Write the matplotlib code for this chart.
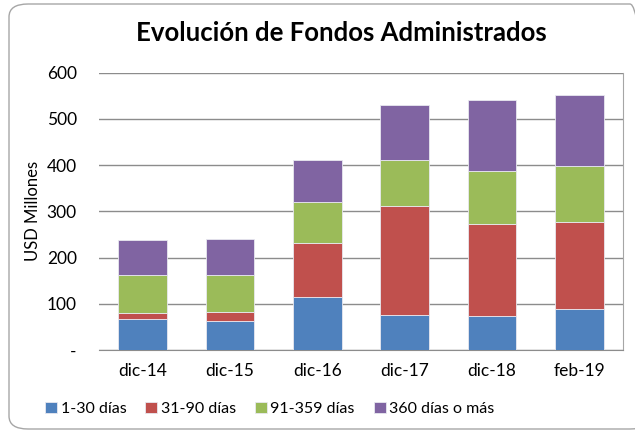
import matplotlib.pyplot as plt
from matplotlib.patches import FancyBboxPatch
import numpy as np

plt.rcParams['font.family'] = ['Lato', 'DejaVu Sans']

categories = ["dic-14", "dic-15", "dic-16", "dic-17", "dic-18", "feb-19"]
d1_30 = [66, 63, 115, 75, 73, 88]
d31_90 = [15, 20, 116, 237, 200, 190]
d91_359 = [81, 79, 90, 99, 114, 120]
d360 = [75, 79, 90, 120, 153, 153]

series = [
    ("1-30 días", d1_30, "#4F81BD"),
    ("31-90 días", d31_90, "#C0504D"),
    ("91-359 días", d91_359, "#9BBB59"),
    ("360 días o más", d360, "#8064A2"),
]

fig = plt.figure(figsize=(6.35, 4.32), dpi=100)
ax = fig.add_axes([99 / 635, 1 - 350 / 432, (623 - 99) / 635, (350 - 72.7) / 432])

# rounded outer border
border = FancyBboxPatch((9 / 635, 3 / 432), 640 / 635, 425 / 432,
                        boxstyle="round,pad=0,rounding_size=0.03",
                        transform=fig.transFigure, fill=False,
                        edgecolor="#A6A6A6", linewidth=1.0, zorder=0)
fig.patches.append(border)

x = np.arange(len(categories))
bottom = np.zeros(len(categories))
for label, vals, color in series:
    ax.bar(x, vals, 0.56, bottom=bottom, color=color, label=label,
           edgecolor="#E8E8F0", linewidth=0.6, zorder=3)
    bottom += np.array(vals)

ax.set_xlim(-0.5, 5.5)
ax.set_ylim(0, 600)
ax.set_yticks([0, 100, 200, 300, 400, 500, 600])
ax.set_yticklabels(["-", "100", "200", "300", "400", "500", "600"])
ax.set_xticks(x)
ax.set_xticklabels(categories)
ax.yaxis.grid(True, color="#8C8C8C", linewidth=1.0, zorder=0)
ax.tick_params(axis="both", length=0, labelsize=12.5, colors="#000000")
ax.tick_params(axis="y", pad=16)
ax.tick_params(axis="x", pad=9)

for s in ["top", "left"]:
    ax.spines[s].set_visible(False)
ax.spines["bottom"].set_color("#8C8C8C")
ax.spines["right"].set_color("#A6A6A6")

ax.set_ylabel("USD Millones", fontsize=12, labelpad=4)

fig.text(341 / 635, 1 - 33 / 432, "Evolución de Fondos Administrados",
         fontsize=18.5, fontweight="bold", ha="center", va="center")

fig.legend(loc="center left", bbox_to_anchor=(31 / 635, 1 - 409 / 432), ncol=4,
           frameon=False, fontsize=11.5, handlelength=0.75, handleheight=0.75,
           handletextpad=0.2, columnspacing=1.2)

fig.savefig("out.png", dpi=100)
